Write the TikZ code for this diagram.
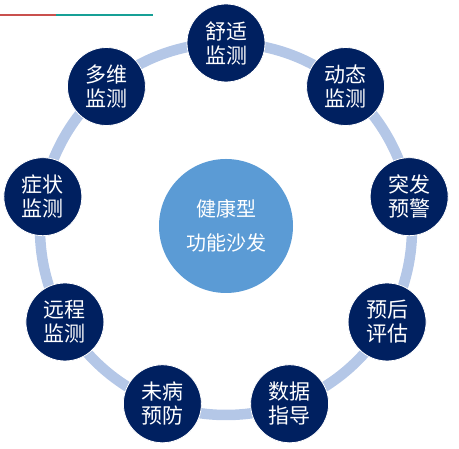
\documentclass[tikz,border=0pt]{standalone}
\usepackage{fontspec}
\newfontfamily\cjk{Noto Sans CJK SC}
\definecolor{navy}{HTML}{002060}
\definecolor{sofablue}{HTML}{5B9BD5}
\definecolor{ringblue}{HTML}{B4C7E7}
\definecolor{barred}{HTML}{C9504D}
\definecolor{barteal}{HTML}{17A096}

\begin{document}
\begin{tikzpicture}[x=1pt,y=1pt,
    monitor/.style={circle,fill=navy,draw=white,line width=0.8pt,minimum size=78pt,inner sep=0pt,
      text=white,align=center,font=\cjk\fontsize{21}{24}\selectfont},
    core/.style={circle,fill=sofablue,minimum size=134pt,inner sep=0pt,
      text=white,align=center,font=\cjk\fontsize{20}{34}\selectfont}]

    \useasboundingbox (0,0) rectangle (459,449);

    % title bar
    \draw[barred,line width=2.5pt] (0,434) -- (56,434);
    \draw[barteal,line width=2.5pt] (56,434) -- (153,434);

    % ring behind the nodes
    \coordinate (hub) at (226,220);
    \draw[ringblue,line width=10.5pt] (hub) circle (186pt);

    % centre
    \node[core] (sofa) at (226,223) {健康型\\功能沙发};

    % outer nodes
    \foreach \ang/\nm/\txt in {90/shushi/舒适\\监测, 50/dongtai/动态\\监测, 10/tufa/突发\\预警,
        -30/yuhou/预后\\评估, -70/shuju/数据\\指导, -110/weibing/未病\\预防,
        -150/yuancheng/远程\\监测, 170/zhengzhuang/症状\\监测, 130/duowei/多维\\监测}
      \path (hub) ++(\ang:186) node[monitor] (\nm) {\txt};
\end{tikzpicture}
\end{document}
